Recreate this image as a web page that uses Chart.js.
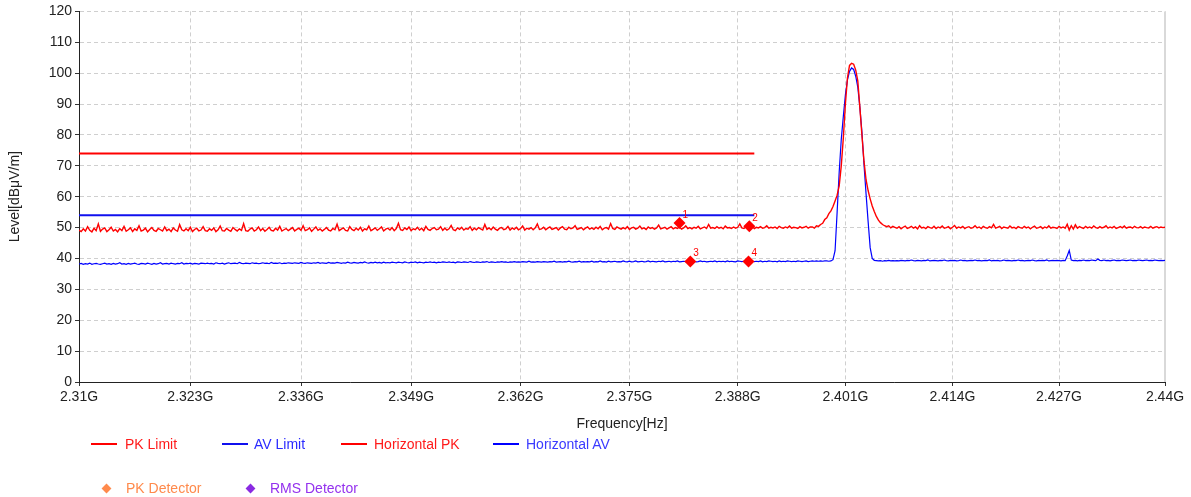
<!DOCTYPE html>
<html><head><meta charset="utf-8">
<script src="https://cdn.jsdelivr.net/npm/chart.js@4/dist/chart.umd.min.js"></script>
<style>
html,body{margin:0;padding:0;background:#fff;}
#wrap{position:relative;width:1191px;height:497px;overflow:hidden;}
canvas{position:absolute;left:0;top:0;}
.lg{position:absolute;font:14px Arial,"Liberation Sans",sans-serif;white-space:nowrap;line-height:16px;}
.ln{position:absolute;height:2px;}
.dm{position:absolute;width:7px;height:7px;transform:rotate(45deg);}
</style></head>
<body><div id="wrap"><canvas id="c" width="1191" height="497"></canvas><div id="legend"></div></div>
<script>
// ---- axis ticks ----
const xTickValuesGHz = [2.31, 2.323, 2.336, 2.349, 2.362, 2.375, 2.388, 2.401, 2.414, 2.427, 2.44];
const xTickLabels = ["2.31G","2.323G","2.336G","2.349G","2.362G","2.375G","2.388G","2.401G","2.414G","2.427G","2.44G"];
const yTicks = [0,10,20,30,40,50,60,70,80,90,100,110,120];

// ---- sweep segments (MHz start, 0.25 MHz step) ----
const segStartMHz = [2310, 2397, 2407.25];
const sweepStepMHz = 0.25;

// Horizontal PK trace (dBµV/m)
const pkLeft = [
49.2,48.7,49.6,48.9,50.3,49.1,48.6,49.8,49.0,51.2,48.8,49.5,49.9,48.7,49.3,50.1,48.9,49.4,48.6,49.7,
49.0,50.4,48.8,49.3,49.9,48.7,49.6,49.1,50.6,48.9,49.2,49.8,48.6,49.4,50.0,49.1,48.8,49.7,49.3,48.9,
50.2,49.0,49.5,48.7,49.9,49.2,48.8,51.0,49.3,48.9,49.6,49.0,50.1,48.7,49.4,49.8,48.9,49.2,50.3,49.0,
48.8,49.6,49.1,49.9,48.7,49.3,50.5,49.0,48.9,49.7,49.2,48.8,50.0,49.4,48.9,49.6,49.1,51.3,49.0,48.8,
49.5,49.9,48.9,49.3,50.2,49.0,49.7,48.8,49.4,50.1,49.1,48.9,49.8,49.2,50.4,48.9,49.3,49.7,49.0,49.5,
50.0,48.9,49.4,49.8,49.1,50.6,49.0,49.3,49.9,48.8,49.5,50.2,49.1,49.6,48.9,49.4,50.0,49.2,48.9,49.7,
49.3,51.1,49.0,49.5,49.9,49.1,48.9,50.3,49.4,49.0,49.8,49.2,50.1,48.9,49.6,49.3,50.5,49.0,49.4,49.9,
49.1,49.6,50.2,48.9,49.5,49.8,49.2,50.0,49.0,49.7,51.4,49.3,49.1,49.9,49.4,50.2,49.0,49.6,49.3,50.1,
49.2,49.8,49.0,50.4,49.4,49.1,49.7,50.0,49.3,49.5,50.3,49.1,49.8,49.2,49.6,50.7,49.3,49.0,49.9,49.4,
50.1,49.2,49.7,49.5,50.3,49.1,49.8,49.3,50.0,49.6,49.2,51.0,49.4,49.9,49.3,50.2,49.5,49.1,49.8,50.0,
49.3,49.6,50.4,49.2,49.9,49.4,50.1,49.3,49.7,50.5,49.2,49.8,49.5,50.0,49.3,49.9,51.2,49.4,49.6,50.1,
49.3,49.8,50.2,49.4,49.7,50.0,49.2,49.9,50.3,49.5,49.3,50.1,49.6,49.9,50.6,49.4,49.7,50.0,49.3,49.8,
50.2,49.5,49.9,49.4,50.1,49.6,50.4,49.3,49.8,50.0,49.5,51.3,49.7,49.4,50.2,49.8,49.5,50.0,49.6,50.3,
49.4,49.9,50.1,49.5,49.8,50.5,49.6,49.9,49.4,50.2,49.7,50.0,49.5,49.9,50.8,49.6,49.8,50.1,49.5,49.9,
50.3,49.6,50.0,49.7,50.2,49.5,49.9,50.6,49.7,50.0,49.6,50.1,49.8,50.4,49.6,49.9,50.2,49.7,51.0,49.8,
50.0,49.7,50.3,49.8,50.1,49.6,50.5,49.9,50.0,49.7,50.2,49.8,50.1,51.2,49.9,49.7,50.3,49.8,50.0,50.4,
49.7,50.1,49.9,50.3,49.8,50.0,50.6,49.8,50.1,49.9,50.2,49.7,50.4,50.0,49.8,50.2,49.9,50.5,49.8,50.1,
50.0,49.7,50.3,49.9,50.1,50.4,49.8,50.2];
const pkPeak = [
50.2,49.8,50.6,50.4,51.0,51.4,52.6,53.2,54.5,55.4,56.8,58.6,60.5,63.5,70.0,79.0,90.0,98.5,102.5,103.2,
102.9,101.0,97.5,89.0,80.0,71.5,65.5,62.0,59.3,57.0,55.2,53.6,52.4,51.6,51.0,50.6,50.3,50.6,49.9,50.4,
50.1];
const pkRight = [
49.8,50.3,49.6,50.1,50.5,49.7,50.0,50.4,49.8,50.2,49.6,50.6,49.9,50.1,49.7,50.3,50.0,49.8,50.4,49.7,
50.2,49.9,50.5,49.8,50.0,50.3,49.6,50.1,50.7,49.8,50.2,49.9,50.4,49.7,50.1,50.3,49.8,50.0,50.6,49.9,
50.2,49.7,50.4,50.0,49.8,50.3,49.9,51.0,49.8,50.1,50.4,49.7,50.2,50.0,49.8,50.5,49.9,50.1,49.7,50.3,
50.0,49.8,50.4,49.9,50.2,49.6,50.1,50.5,49.8,50.0,50.3,49.7,50.2,49.9,50.6,49.8,50.1,50.0,49.7,50.4,
49.9,50.2,49.8,51.1,49.2,50.6,49.5,50.9,49.8,50.3,50.0,49.7,50.4,49.9,50.2,49.8,50.5,50.0,49.8,50.3,
49.9,50.1,50.6,49.8,50.2,49.9,50.4,49.7,50.0,50.3,49.9,50.5,49.8,50.1,50.2,49.8,50.4,50.0,49.9,50.3,
49.8,50.2,50.0,49.9,50.4,49.8,50.1,50.3,49.9,50.2,50.0,50.1];

// Horizontal AV trace (dBµV/m)
const avLeft = [
38.2,38.4,38.1,38.3,38.2,38.5,38.1,38.3,38.4,38.2,38.1,38.3,38.5,38.2,38.3,38.1,38.4,38.2,38.3,38.6,
38.2,38.3,38.1,38.4,38.2,38.3,38.5,38.2,38.1,38.4,38.3,38.2,38.5,38.3,38.1,38.4,38.2,38.3,38.6,38.2,
38.3,38.4,38.2,38.5,38.3,38.2,38.4,38.3,38.6,38.2,38.4,38.3,38.5,38.2,38.4,38.3,38.2,38.5,38.4,38.3,
38.5,38.3,38.4,38.2,38.6,38.4,38.3,38.5,38.2,38.4,38.6,38.3,38.4,38.5,38.3,38.7,38.4,38.3,38.5,38.4,
38.3,38.6,38.4,38.5,38.3,38.4,38.6,38.4,38.5,38.3,38.7,38.4,38.5,38.4,38.6,38.3,38.5,38.4,38.6,38.5,
38.4,38.6,38.5,38.4,38.7,38.5,38.4,38.6,38.5,38.4,38.6,38.5,38.7,38.4,38.6,38.5,38.4,38.7,38.5,38.6,
38.5,38.7,38.6,38.4,38.6,38.5,38.8,38.6,38.5,38.7,38.6,38.5,38.7,38.6,38.9,38.6,38.5,38.7,38.6,38.8,
38.6,38.7,38.5,38.8,38.6,38.7,38.6,38.8,38.7,38.6,38.8,38.7,38.6,38.9,38.7,38.6,38.8,38.7,38.9,38.6,
38.8,38.7,38.6,38.8,38.7,38.9,38.7,38.8,38.6,38.8,38.7,38.9,38.8,38.7,38.9,38.7,38.8,38.6,38.9,38.8,
38.7,38.9,38.8,38.7,39.0,38.8,38.7,38.9,38.8,38.7,38.9,38.8,39.0,38.7,38.9,38.8,38.7,38.9,38.8,39.0,
38.8,38.9,38.7,38.9,38.8,39.0,38.8,38.9,38.8,39.0,38.9,38.8,39.1,38.8,38.9,38.8,39.0,38.9,38.8,39.0,
38.9,38.8,39.0,38.9,39.1,38.8,38.9,39.0,38.8,39.0,38.9,39.1,38.9,38.8,39.0,38.9,39.1,38.8,39.0,38.9,
39.0,38.9,39.1,38.8,39.0,38.9,39.2,38.9,39.0,38.8,39.1,38.9,39.0,39.1,38.9,39.0,38.9,39.2,39.0,38.9,
39.1,38.9,39.0,39.2,38.9,39.0,39.1,38.9,39.0,39.2,38.9,39.1,39.0,38.9,39.1,39.0,39.2,38.9,39.0,39.1,
38.9,39.1,39.0,39.2,38.9,39.0,39.1,39.0,38.9,39.2,39.0,39.1,38.9,39.0,39.2,39.0,39.1,38.9,39.0,39.1,
39.0,39.2,38.9,39.1,39.0,39.1,38.9,39.2,39.0,39.1,39.0,38.9,39.2,39.1,39.0,39.1,38.9,39.0,39.2,39.1,
39.0,39.1,39.0,39.2,38.9,39.1,39.0,39.2,39.1,39.0,39.1,38.9,39.2,39.0,39.1,39.0,39.2,39.1,39.0,39.1,
39.0,39.2,39.1,39.0,39.1,39.2,39.0,39.1];
const avPeak = [
39.2,39.1,39.2,39.1,39.2,39.1,39.2,39.2,39.1,39.2,39.6,42.5,55.0,68.0,78.5,86.0,93.0,97.8,100.6,101.7,
101.2,99.0,95.5,89.0,81.0,70.5,61.0,52.0,43.5,40.0,39.4,39.3,39.2,39.3,39.1,39.3,39.2,39.4,39.2,39.3,
39.2];
const avRight = [
39.3,39.2,39.4,39.3,39.2,39.4,39.3,39.5,39.3,39.2,39.4,39.3,39.2,39.4,39.3,39.5,39.2,39.3,39.4,39.3,
39.2,39.4,39.3,39.5,39.3,39.2,39.4,39.3,39.4,39.2,39.3,39.5,39.3,39.4,39.2,39.3,39.4,39.3,39.5,39.3,
39.4,39.2,39.3,39.4,39.3,39.5,39.2,39.4,39.3,39.4,39.2,39.3,39.5,39.3,39.4,39.3,39.2,39.4,39.3,39.5,
39.3,39.4,39.2,39.3,39.4,39.3,39.5,39.3,39.2,39.4,39.3,39.4,39.3,39.5,39.2,39.3,39.4,39.3,39.4,39.3,
39.2,39.4,39.3,40.8,42.6,39.5,39.3,39.4,39.2,39.4,39.3,39.5,39.3,39.4,39.3,39.5,39.4,39.3,39.8,39.4,
39.3,39.5,39.3,39.4,39.2,39.4,39.5,39.3,39.4,39.3,39.5,39.4,39.3,39.4,39.5,39.3,39.4,39.3,39.5,39.4,
39.3,39.4,39.5,39.3,39.4,39.3,39.5,39.4,39.3,39.4,39.3,39.4];

// Limits
const limitFreqMHz = [2310, 2390];
const pkLimit = [74, 74];
const avLimit = [54, 54];

// Markers
const pkDetFreqMHz = [2381.0, 2389.4];
const pkDetLevel = [51.5, 50.4];
const pkDetNo = ["1", "2"];
const rmsDetFreqMHz = [2382.3, 2389.3];
const rmsDetLevel = [39.0, 39.0];
const rmsDetNo = ["3", "4"];

// ---- build ----
function sweep(segs) {
  const out = [];
  segs.forEach((vals, s) => {
    vals.forEach((v, i) => out.push({x: (segStartMHz[s] + i * sweepStepMHz) * 1e6, y: v}));
  });
  return out;
}
function pts(fMHz, lv) { return fMHz.map((f, i) => ({x: f * 1e6, y: lv[i]})); }

const RED = '#ff0000', BLUE = '#0000ff';
const FONT = 'Arial, "Liberation Sans", sans-serif';
Chart.defaults.font.family = FONT;

const markerLabels = {
  id: 'markerLabels',
  afterDatasetsDraw(chart) {
    const ctx = chart.ctx;
    ctx.save();
    ctx.fillStyle = RED;
    ctx.font = '10px ' + FONT;
    ctx.textAlign = 'left';
    ctx.textBaseline = 'middle';
    chart.data.datasets.forEach((ds, di) => {
      if (!ds.markerNo) return;
      chart.getDatasetMeta(di).data.forEach((p, j) => ctx.fillText(ds.markerNo[j], p.x + 3, p.y - 8));
    });
    ctx.restore();
  }
};
const rightEdge = {
  id: 'rightEdge',
  beforeDatasetsDraw(chart) {
    const {ctx, chartArea: a} = chart;
    ctx.save();
    ctx.strokeStyle = '#d9d9d9';
    ctx.lineWidth = 2;
    ctx.beginPath();
    ctx.moveTo(a.right, a.top);
    ctx.lineTo(a.right, a.bottom);
    ctx.stroke();
    ctx.restore();
  }
};

new Chart(document.getElementById('c'), {
  type: 'line',
  data: {
    datasets: [
      {label: 'PK Detector', data: pts(pkDetFreqMHz, pkDetLevel), markerNo: pkDetNo, showLine: false,
       pointStyle: 'rectRot', pointRadius: 6, backgroundColor: RED, borderColor: RED, borderWidth: 0, order: 0},
      {label: 'RMS Detector', data: pts(rmsDetFreqMHz, rmsDetLevel), markerNo: rmsDetNo, showLine: false,
       pointStyle: 'rectRot', pointRadius: 6, backgroundColor: RED, borderColor: RED, borderWidth: 0, order: 0},
      {label: 'PK Limit', data: pts(limitFreqMHz, pkLimit), borderColor: RED, borderWidth: 2, pointRadius: 0, order: 1},
      {label: 'AV Limit', data: pts(limitFreqMHz, avLimit), borderColor: '#1010ee', borderWidth: 2, pointRadius: 0, order: 1},
      {label: 'Horizontal PK', data: sweep([pkLeft, pkPeak, pkRight]), borderColor: RED, borderWidth: 1.4, pointRadius: 0, order: 2},
      {label: 'Horizontal AV', data: sweep([avLeft, avPeak, avRight]), borderColor: BLUE, borderWidth: 1.2, pointRadius: 0, order: 2}
    ]
  },
  options: {
    responsive: false,
    animation: false,
    parsing: true,
    layout: {padding: {left: 0, right: 26, top: 10, bottom: 64}},
    plugins: {legend: {display: false}, tooltip: {enabled: false}},
    elements: {line: {tension: 0}},
    scales: {
      x: {
        type: 'logarithmic',
        min: xTickValuesGHz[0] * 1e9,
        max: xTickValuesGHz[xTickValuesGHz.length - 1] * 1e9,
        afterBuildTicks: s => { s.ticks = xTickValuesGHz.map(v => ({value: v * 1e9})); },
        afterFit: s => { s.height = 51; },
        ticks: {autoSkip: false, maxRotation: 0, minRotation: 0, color: '#222', font: {size: 14}, padding: 3,
                callback: (v, i) => xTickLabels[i]},
        grid: {color: '#cfcfcf', lineWidth: 1, tickLength: 4, tickColor: '#333'},
        border: {color: '#222', width: 1, dash: [4, 3]},
        title: {display: true, text: 'Frequency[Hz]', color: '#222', font: {size: 14}, padding: {top: 0, bottom: 0}}
      },
      y: {
        min: 0, max: 120,
        afterBuildTicks: s => { s.ticks = yTicks.map(v => ({value: v})); },
        afterFit: s => { s.width = 79; },
        ticks: {color: '#222', font: {size: 14}, padding: 3},
        grid: {color: '#cfcfcf', lineWidth: 1, tickLength: 4, tickColor: '#333'},
        border: {color: '#222', width: 1, dash: [4, 3]},
        title: {display: true, text: 'Level[dBμV/m]', color: '#222', font: {size: 14}, padding: {top: 7, bottom: 0}}
      }
    }
  },
  plugins: [rightEdge, markerLabels]
});

// ---- HTML legend ----
const legendItems = [
  {name: 'PK Limit', kind: 'line', color: RED, text: '#ff1a1a', x: 91, tx: 125, y: 444},
  {name: 'AV Limit', kind: 'line', color: '#1010ee', text: '#2a2aff', x: 222, tx: 254, y: 444},
  {name: 'Horizontal PK', kind: 'line', color: RED, text: '#ff1a1a', x: 341, tx: 374, y: 444},
  {name: 'Horizontal AV', kind: 'line', color: BLUE, text: '#3a3aff', x: 493, tx: 526, y: 444},
  {name: 'PK Detector', kind: 'dia', color: '#ff8a4c', text: '#ff8a4c', x: 106, tx: 126, y: 488},
  {name: 'RMS Detector', kind: 'dia', color: '#8a2be2', text: '#9431ee', x: 250, tx: 270, y: 488}
];
const lg = document.getElementById('legend');
legendItems.forEach(it => {
  const m = document.createElement('div');
  if (it.kind === 'line') {
    m.className = 'ln';
    m.style.cssText = `left:${it.x}px;top:${it.y - 1}px;width:26px;background:${it.color}`;
  } else {
    m.className = 'dm';
    m.style.cssText = `left:${it.x - 3.5}px;top:${it.y - 3.5}px;background:${it.color}`;
  }
  lg.appendChild(m);
  const t = document.createElement('div');
  t.className = 'lg';
  t.textContent = it.name;
  t.style.cssText = `left:${it.tx}px;top:${it.y - 8}px;color:${it.text}`;
  lg.appendChild(t);
});
</script>
</body></html>
